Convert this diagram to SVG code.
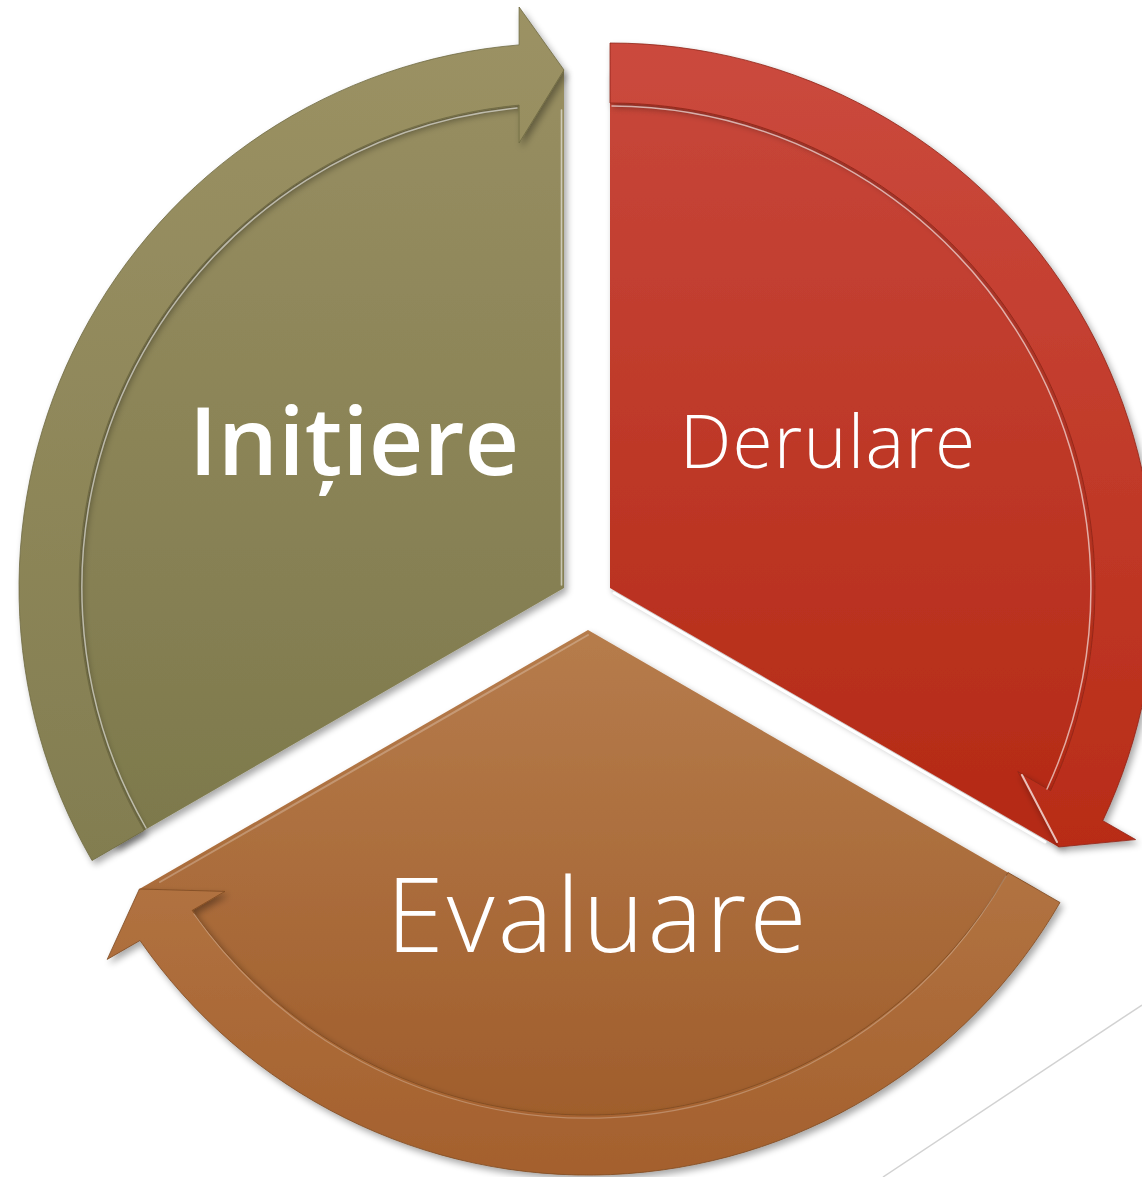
<svg xmlns="http://www.w3.org/2000/svg" width="1142" height="1177" viewBox="0 0 1142 1177">
<defs>
<style>
.lbl{fill:#ffffff;font-family:"Open Sans","Noto Sans","DejaVu Sans",sans-serif;text-anchor:middle}
.hl{fill:none;stroke:#ffffff;stroke-linecap:round}
</style>
<filter id="sh" x="-10%" y="-10%" width="125%" height="125%">
<feGaussianBlur in="SourceAlpha" stdDeviation="3.5"/>
<feOffset dx="3" dy="4" result="b"/>
<feComponentTransfer><feFuncA type="linear" slope="0.35"/></feComponentTransfer>
<feMerge><feMergeNode/><feMergeNode in="SourceGraphic"/></feMerge>
</filter>
<linearGradient id="gOl" gradientUnits="userSpaceOnUse" x1="0" y1="0" x2="0" y2="870">
<stop offset="0" stop-color="#9a9063"/><stop offset="1" stop-color="#7c784b"/>
</linearGradient>
<linearGradient id="gOlB" gradientUnits="userSpaceOnUse" x1="0" y1="0" x2="0" y2="870">
<stop offset="0" stop-color="#9c9264"/><stop offset="1" stop-color="#827d50"/>
</linearGradient>
<linearGradient id="gRd" gradientUnits="userSpaceOnUse" x1="0" y1="40" x2="0" y2="850">
<stop offset="0" stop-color="#c8483c"/><stop offset="1" stop-color="#b42914"/>
</linearGradient>
<linearGradient id="gRdB" gradientUnits="userSpaceOnUse" x1="0" y1="40" x2="0" y2="850">
<stop offset="0" stop-color="#cb4a3e"/><stop offset="1" stop-color="#b82c17"/>
</linearGradient>
<linearGradient id="gBr" gradientUnits="userSpaceOnUse" x1="0" y1="630" x2="0" y2="1177">
<stop offset="0" stop-color="#b67c4c"/><stop offset="1" stop-color="#9d5a28"/>
</linearGradient>
<linearGradient id="gBrB" gradientUnits="userSpaceOnUse" x1="0" y1="630" x2="0" y2="1177">
<stop offset="0" stop-color="#bc8252"/><stop offset="1" stop-color="#a4602d"/>
</linearGradient>
<linearGradient id="gRdHl" gradientUnits="userSpaceOnUse" x1="612" y1="592" x2="1050" y2="845">
<stop offset="0" stop-color="#ffffff" stop-opacity="0.9"/><stop offset="0.5" stop-color="#ffe0d8" stop-opacity="0.55"/><stop offset="1" stop-color="#ffffff" stop-opacity="0.85"/>
</linearGradient>
</defs>
<rect width="1142" height="1177" fill="#ffffff"/>
<line x1="1142" y1="1005" x2="883" y2="1177" stroke="#d2d2d2" stroke-width="1.5"/>

<g id="node-initiere">
<path d="M564,588 L115.4,847 A518,518 0 0 1 564,70 Z" fill="url(#gOl)" filter="url(#sh)"/>
<line class="hl" x1="561.5" y1="585" x2="561.5" y2="110" stroke-opacity="0.55" stroke-width="1.6"/>
<text class="lbl" x="354" y="475" font-size="95" font-weight="600">Inițiere</text>
</g>

<g id="node-derulare">
<path d="M610,588 L610,70 A518,518 0 0 1 1058.6,847 Z" fill="url(#gRd)" filter="url(#sh)"/>
<path class="hl" d="M614,593 L1045,842" stroke="url(#gRdHl)" stroke-width="3"/>
<text class="lbl" x="828" y="468" font-size="73" font-weight="300" letter-spacing="1.2">Derulare</text>
</g>

<g id="node-evaluare">
<path d="M588,630 L1036.6,889 A518,518 0 0 1 139.4,889 Z" fill="url(#gBr)" filter="url(#sh)"/>
<path class="hl" d="M588,635 L160,882" stroke-opacity="0.25" stroke-width="2"/>
<text class="lbl" x="598" y="952" font-size="104" font-weight="300" letter-spacing="3.2">Evaluare</text>
</g>

<g id="connectors">
<g id="arrow-initiere">
<path d="M92,860.5 A545,545 0 0 1 519.1,44.9 L519.1,7 L564,70 L519.1,143 L519.1,105.1 A485,485 0 0 0 144,830.5 Z" fill="url(#gOlB)" stroke="#6e6a42" stroke-width="0.8" filter="url(#sh)"/>
<path class="hl" d="M146,828 A482,482 0 0 1 517,108" stroke-opacity="0.55" stroke-width="1.5"/>
</g>
<g id="arrow-derulare">
<path d="M610,43 A545,545 0 0 1 1102.8,820.7 L1135.6,839.6 L1058.6,847 L1017.8,771.6 L1050.6,790.6 A485,485 0 0 0 610,103 Z" fill="url(#gRdB)" stroke="#8e2416" stroke-width="0.8" filter="url(#sh)"/>
<path class="hl" d="M612,106 A482,482 0 0 1 1047,789" stroke-opacity="0.6" stroke-width="1.5"/>
<path class="hl" d="M1022,775 L1057,842" stroke-opacity="0.7" stroke-width="2"/>
</g>
<g id="arrow-evaluare">
<path d="M1060,902.5 A545,545 0 0 1 140,940.5 L107.2,959.4 L139.4,889 L225,891.4 L192.2,910.4 A485,485 0 0 0 1008,872.5 Z" fill="url(#gBrB)" stroke="#7e4a22" stroke-width="0.8" filter="url(#sh)"/>
<path class="hl" d="M194,914 A482,482 0 0 0 1006,876" stroke-opacity="0.25" stroke-width="1.2"/>
</g>
</g>
</svg>
